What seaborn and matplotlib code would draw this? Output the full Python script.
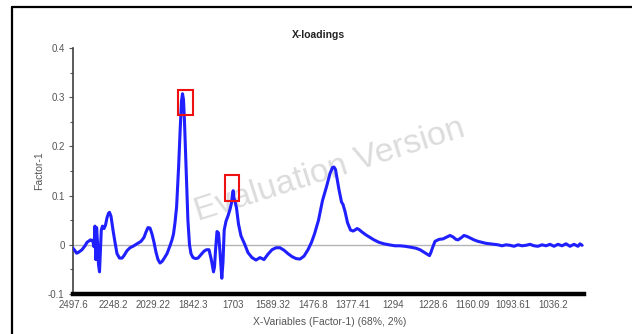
import matplotlib
matplotlib.use("Agg")
import matplotlib.pyplot as plt
import seaborn as sns
import pandas as pd
from matplotlib.patches import Rectangle
from matplotlib.lines import Line2D

# Factor-1 loadings per X-variable (variable index along the spectrum)
var_index = [
    0, 2, 3.5, 5, 7, 9, 10.5, 12, 14, 16, 17.5, 19, 20, 21, 22, 22.8, 23.6, 24.5,
    25.5, 26.5, 27.5, 28.3, 29.5, 31, 32.5, 34, 35.5, 36.5, 38, 40, 42, 44, 46.5,
    49, 51, 54, 57, 60, 64, 68, 71, 73, 75, 77, 79, 81, 83, 85, 87, 89, 91, 94, 97,
    99, 100.5, 102, 103.6, 105.6, 107.3, 108.5, 109.5, 110.5, 111.5, 112.5, 113.5,
    114.9, 116.5, 118, 120, 122.5, 125, 128.5, 131, 133.5, 136, 138.3, 140.5, 141.5,
    142.5, 144, 145.5, 147, 148.8, 150, 151.2, 153, 155.2, 157, 158.5, 159.5, 160.2,
    161, 162, 163.5, 165.5, 168, 171.5, 175, 179, 183, 187, 191, 195, 199, 203, 207,
    211, 215, 219, 223, 227, 231, 235, 238.5, 241.5, 245.5, 249.5, 253.5, 257, 259.5,
    261, 262.5, 264, 266, 268.5, 270, 272, 274.5, 277.5, 280, 282, 284, 286, 289,
    293, 297, 301, 306, 311, 316, 322, 327, 332, 338, 343, 347, 351, 354, 356.5, 358,
    359.5, 362, 366, 370, 374, 377, 380, 383, 385, 388, 391, 394, 397, 401, 405, 409,
    413, 417, 421, 425, 429, 433, 437, 441, 445, 449, 453, 457, 461, 465, 469, 473,
    477, 481, 485, 489, 493, 497, 501, 505, 507, 509,
]
loading = [
    -0.007, -0.012, -0.017, -0.016, -0.013, -0.010, -0.006, -0.002, 0.005, 0.008,
    0.010, 0.009, 0.006, -0.004, 0.038, -0.030, 0.035, 0.005, -0.040, -0.055, -0.010,
    0.030, 0.038, 0.033, 0.040, 0.055, 0.064, 0.066, 0.058, 0.030, 0.005, -0.018,
    -0.027, -0.027, -0.022, -0.012, -0.006, -0.003, 0.002, 0.007, 0.015, 0.026, 0.035,
    0.034, 0.022, 0.005, -0.015, -0.030, -0.037, -0.034, -0.028, -0.018, -0.002,
    0.010, 0.022, 0.045, 0.077, 0.158, 0.240, 0.292, 0.307, 0.295, 0.250, 0.190,
    0.125, 0.050, 0.000, -0.018, -0.026, -0.028, -0.027, -0.019, -0.013, -0.010,
    -0.010, -0.030, -0.055, -0.045, -0.012, 0.027, 0.024, -0.015, -0.068, -0.035,
    0.030, 0.048, 0.060, 0.072, 0.085, 0.103, 0.110, 0.095, 0.088, 0.075, 0.042,
    0.018, 0.002, -0.016, -0.026, -0.031, -0.026, -0.030, -0.019, -0.010, -0.006,
    -0.006, -0.011, -0.018, -0.024, -0.028, -0.029, -0.023, -0.010, 0.005, 0.022,
    0.050, 0.090, 0.118, 0.145, 0.157, 0.158, 0.153, 0.135, 0.112, 0.087, 0.082,
    0.068, 0.045, 0.030, 0.028, 0.030, 0.033, 0.031, 0.026, 0.020, 0.015, 0.010,
    0.005, 0.002, 0.000, -0.002, -0.002, -0.003, -0.005, -0.007, -0.010, -0.015,
    -0.019, -0.022, -0.015, -0.006, 0.007, 0.011, 0.012, 0.016, 0.019, 0.016, 0.011,
    0.010, 0.014, 0.019, 0.017, 0.014, 0.010, 0.007, 0.005, 0.003, 0.002, 0.001,
    0.000, -0.002, 0.000, -0.001, -0.003, 0.000, -0.002, -0.001, 0.001, -0.002,
    -0.003, 0.000, -0.002, 0.001, -0.003, 0.001, -0.002, 0.002, -0.003, 0.001,
    -0.003, 0.002, -0.001,
]

tick_index = [0, 40, 80, 120, 160, 200, 240, 280, 320, 360, 400, 440, 480]
tick_labels = ["2497.6", "2248.2", "2029.22", "1842.3", "1703", "1589.32",
               "1476.8", "1377.41", "1294", "1228.6", "1160.09", "1093.61", "1036.2"]
y_ticks = [-0.1, 0.0, 0.1, 0.2, 0.3, 0.4]
y_tick_labels = ["-0.1", "0", "0.1", "0.2", "0.3", "0.4"]

# Marked peaks: variable-index span and loading span of each box
box_index = [(105, 120), (151.5, 166)]
box_loading = [(0.263, 0.315), (0.089, 0.1415)]

sns.set_theme(style="white")
plt.rcParams['font.family'] = ['Liberation Sans', 'DejaVu Sans']

W, H = 632, 334
fig = plt.figure(figsize=(W / 100, H / 100), dpi=100)
fig.patch.set_facecolor("white")

# outer frame (left and top edges)
fig.add_artist(Line2D([12 / W, 12 / W], [0, 1 - 7 / H], transform=fig.transFigure,
                      color="black", lw=1.6))
fig.add_artist(Line2D([12 / W, 1], [1 - 7 / H, 1 - 7 / H], transform=fig.transFigure,
                      color="black", lw=1.6))

ax = fig.add_axes([73 / W, 1 - 294 / H, (584 - 73) / W, (294 - 48) / H])
ax.set_facecolor("white")

df = pd.DataFrame({"var": var_index, "loading": loading})

ax.text(0.503, 0.504, "Evaluation Version", transform=ax.transAxes, rotation=17.6,
        ha="center", va="center", fontsize=24.5, color="#dcdcdc", zorder=0)
ax.axhline(0, color="#b4b4b4", lw=1.0, zorder=1)
sns.lineplot(data=df, x="var", y="loading", color="#1f1fff", lw=2.2, ax=ax,
             zorder=3, estimator=None, sort=False)

for (x0, x1), (y0, y1) in zip(box_index, box_loading):
    ax.add_patch(Rectangle((x0, y0), x1 - x0, y1 - y0, fill=False,
                           edgecolor="#ee1111", lw=1.5, zorder=4))

ax.set_xlim(0, 511)
ax.set_ylim(-0.1, 0.4)
ax.set_xticks(tick_index)
ax.set_xticklabels(tick_labels)
ax.set_yticks(y_ticks)
ax.set_yticklabels(y_tick_labels)
ax.set_yticks([-0.05, 0.05, 0.15, 0.25, 0.35], minor=True)

for s in ("top", "right"):
    ax.spines[s].set_visible(False)
ax.spines["left"].set_color("#404040")
ax.spines["left"].set_linewidth(1.2)
ax.spines["bottom"].set_color("black")
ax.spines["bottom"].set_linewidth(3.2)

ax.tick_params(axis="x", length=0, pad=4.5, labelsize=7, colors="#555555")
ax.tick_params(axis="y", which="both", left=True, length=3, width=0.8,
               direction="out", pad=3, labelsize=7, colors="#555555")
ax.tick_params(axis="y", which="minor", length=2.5)

ax.set_title("")
fig.text(318 / W, 1 - 35 / H, "X-loadings", ha="center", va="center",
         fontsize=7.5, fontweight="bold", color="#222222")
ax.set_xlabel("X-Variables (Factor-1) (68%, 2%)", fontsize=7.5, color="#555555")
ax.set_ylabel("Factor-1", fontsize=7.5, color="#555555")
ax.xaxis.set_label_coords(0.503, -0.114)
ax.yaxis.set_label_coords(-0.0665, 0.5)
ax.xaxis.label.set_va("center")
ax.yaxis.label.set_va("center")

fig.savefig("out.png", dpi=100, facecolor="white")
